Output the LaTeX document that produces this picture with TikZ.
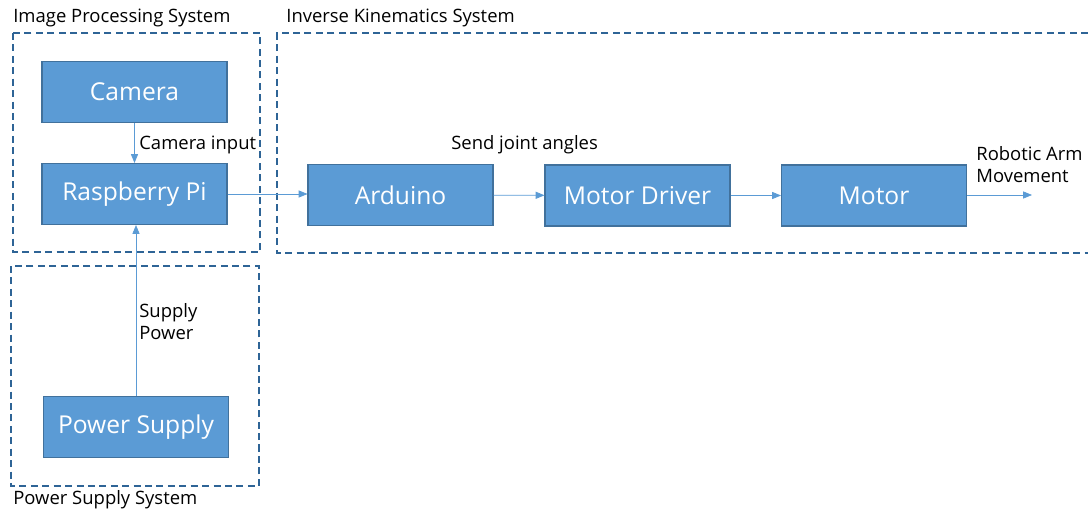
\documentclass[tikz,border=0pt]{standalone}
\usepackage{fontspec}
\setmainfont{Open Sans}
\usetikzlibrary{arrows.meta}

\definecolor{boxfill}{HTML}{5B9BD5}
\definecolor{boxedge}{HTML}{41719C}
\definecolor{groupedge}{HTML}{2E6496}
\definecolor{linkcol}{HTML}{5B9BD5}

\begin{document}
\begin{tikzpicture}[x=0.02cm, y=-0.02cm,
    block/.style={rectangle, draw=boxedge, semithick, fill=boxfill, text=white, inner sep=0,
      minimum width=3.7cm, minimum height=1.22cm, font=\fontsize{14}{16}\selectfont},
    group/.style={draw=groupedge, thick, dash pattern=on 4pt off 2.5pt},
    link/.style={draw=linkcol, -{Triangle[length=5pt, width=4pt]}},
    note/.style={anchor=west, inner sep=0, align=left, font=\fontsize{10.5}{12.5}\selectfont}]
        \useasboundingbox (0,0) rectangle (1088,513);

        % group frames
        \draw [group] (13,33) rectangle (260,252);
        \draw [group] (1088,33) -| (277,253) -- (1088,253);
        \draw [group] (11,266) rectangle (259,486);

        \node [note] (title1) at (13,18) {Image Processing System};
        \node [note] (title2) at (286,18) {Inverse Kinematics System};
        \node [note] (title3) at (13,500) {Power Supply System};

        % blocks
        \node [block] (cam) at (134.5,92) {Camera};
        \node [block] (pi) at (134.5,194) {Raspberry Pi};
        \node [block] (pwr) at (136,427) {Power Supply};
        \node [block] (ard) at (400.5,195) {Arduino};
        \node [block] (drv) at (637.5,195.5) {Motor Driver};
        \node [block] (mot) at (874,195.5) {Motor};
        \coordinate (out) at (1032,195);

        \draw [link] (cam) -- (pi);
        \draw [link] (pwr) -- (pwr |- pi.south);
        \draw [link] (pi.east) -- (pi.east -| ard.west);
        \draw [link] (ard) -- (drv);
        \draw [link] (drv) -- (mot);
        \draw [link] (mot.east |- out) -- (out);

        \node [note] (lbl1) at (139,145) {Camera input};
        \node [note] (lbl2) at (451,145) {Send joint angles};
        \node [note] (lbl3) at (139,322) {Supply\\Power};
        \node [note] (lbl4) at (976,165) {Robotic Arm\\Movement};
      \end{tikzpicture}
\end{document}
